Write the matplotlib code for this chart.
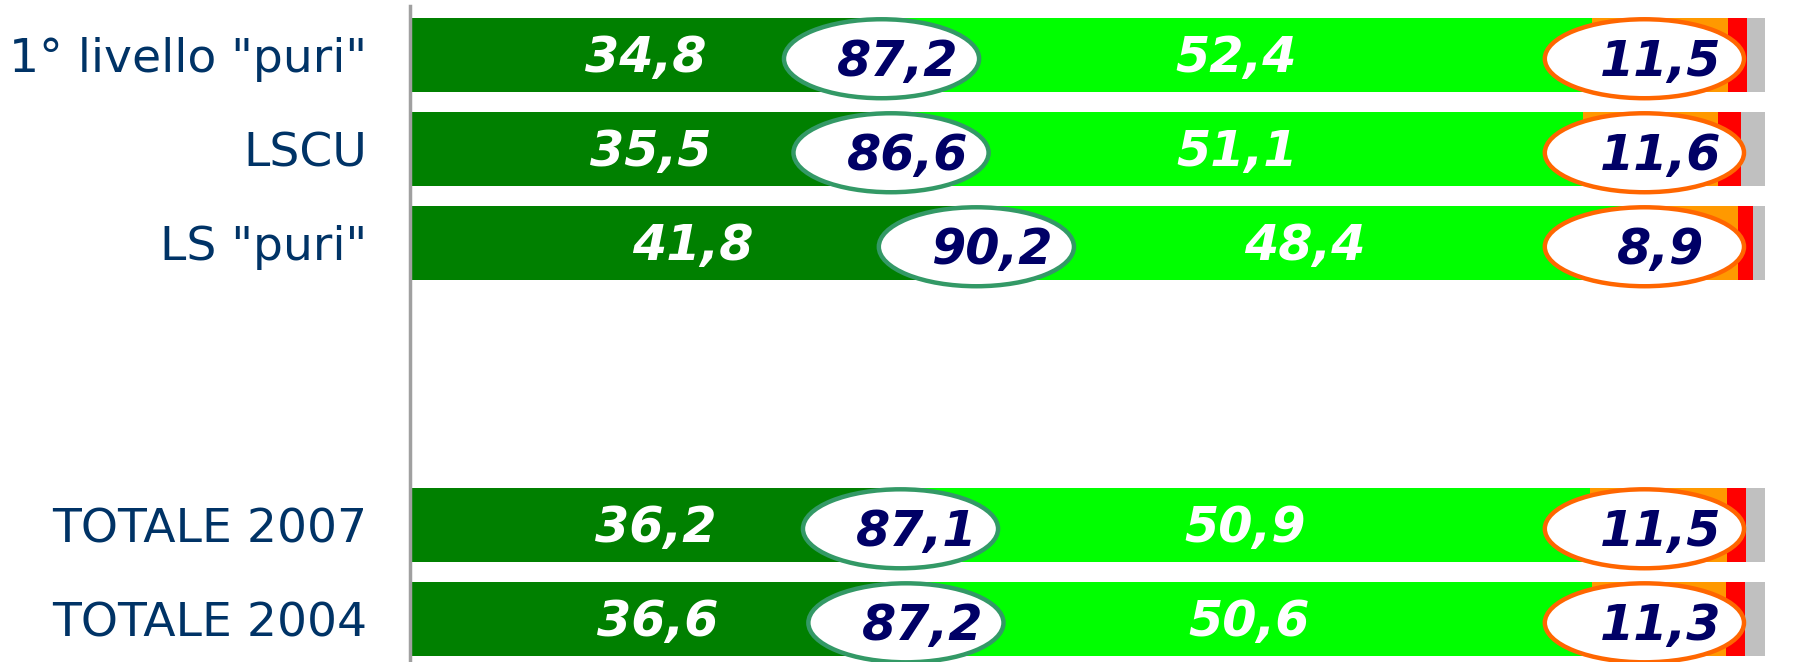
import matplotlib.pyplot as plt
from matplotlib.patches import Ellipse

categories = ['1° livello "puri"', 'LSCU', 'LS "puri"', 'TOTALE 2007', 'TOTALE 2004']
positions = [0, 1, 2, 5, 6]

dark_green = [34.8, 35.5, 41.8, 36.2, 36.6]
light_green = [52.4, 51.1, 48.4, 50.9, 50.6]
orange = [10.1, 9.9, 7.8, 10.1, 9.9]
red = [1.4, 1.7, 1.1, 1.4, 1.4]
gray = [1.3, 1.8, 0.9, 1.4, 1.5]

total_positive = [87.2, 86.6, 90.2, 87.1, 87.2]
total_negative = [11.5, 11.6, 8.9, 11.5, 11.3]


def fmt(v):
    return f"{v:.1f}".replace('.', ',')


fig = plt.figure(figsize=(18.06, 6.62), dpi=100)
ax = fig.add_axes([410 / 1806, 0, (1765 - 410) / 1806, 1 - 6 / 662])

h = 0.79
segments = [
    (dark_green, '#008000'),
    (light_green, '#00FF00'),
    (orange, '#FF9900'),
    (red, '#FF0000'),
    (gray, '#C0C0C0'),
]
left = [0.0] * len(positions)
for vals, col in segments:
    ax.barh(positions, vals, left=left, height=h, color=col, linewidth=0)
    left = [a + b for a, b in zip(left, vals)]

tfont = dict(fontsize=35.5, fontweight='bold', fontstyle='italic', family='DejaVu Sans')

for i, y in enumerate(positions):
    d, l = dark_green[i], light_green[i]
    ax.text(d / 2, y + 0.03, fmt(d), color='white', ha='center', va='center', **tfont)
    ax.text(d + l / 2, y + 0.03, fmt(l), color='white', ha='center', va='center', **tfont)

    # ellisse sul totale positivo (centrata sul confine verde scuro / verde chiaro)
    ax.add_patch(Ellipse((d, y + 0.04), 14.4, 0.84, facecolor='white',
                         edgecolor='#339966', linewidth=3.2, zorder=3))
    ax.text(d + 1.2, y + 0.07, fmt(total_positive[i]), color='#000066',
            ha='center', va='center', zorder=4, **tfont)

    # ellisse sul totale negativo
    ax.add_patch(Ellipse((91.1, y + 0.04), 14.7, 0.84, facecolor='white',
                         edgecolor='#FF6600', linewidth=3.2, zorder=3))
    ax.text(92.3, y + 0.07, fmt(total_negative[i]), color='#000066',
            ha='center', va='center', zorder=4, **tfont)

ax.set_xlim(0, 100)
ax.set_ylim(6.457, -0.521)
ax.set_yticks(positions)
ax.set_yticklabels(categories, fontsize=34, color='#003366')
ax.tick_params(axis='y', length=0, pad=31)
ax.set_xticks([])
for s in ['top', 'right', 'bottom']:
    ax.spines[s].set_visible(False)
ax.spines['left'].set_color('#A0A0A0')
ax.spines['left'].set_linewidth(2.5)
ax.set_facecolor('white')

fig.savefig('out.png', dpi=100)
